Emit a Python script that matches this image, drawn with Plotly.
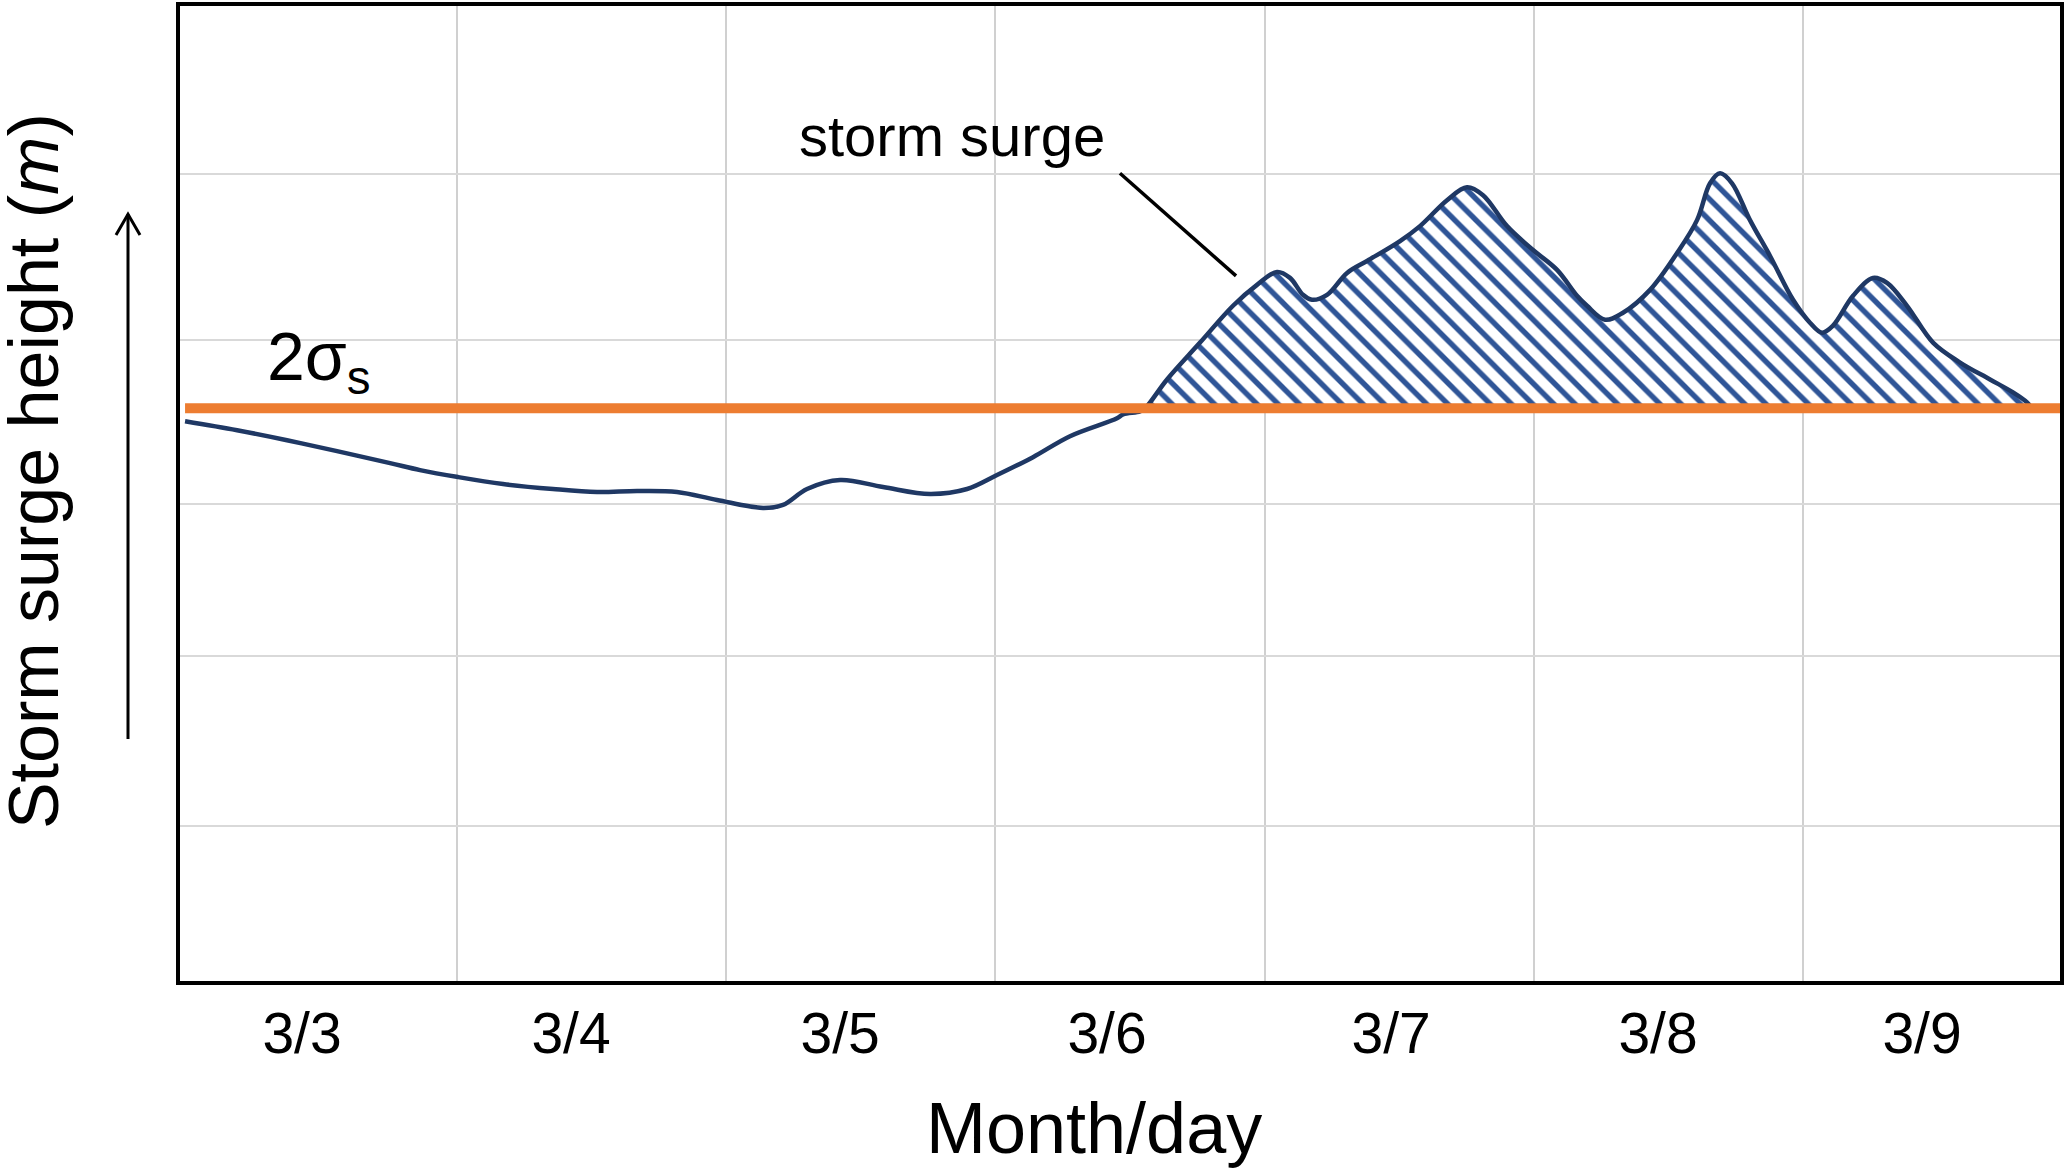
import plotly.graph_objects as go

# ---- data (hours from 3/3 00:00, surge height in arbitrary m units) ----
hours = [-0.25, 4.39, 8.84, 13.30, 18.03, 20.70, 24.09, 28.10, 32.56, 36.48, 40.05, 43.61,
         47.18, 51.28, 53.06, 55.20, 58.15, 61.98, 66.17, 69.47, 72.14, 75.35, 78.65,
         82.84, 83.38, 84.89, 85.34,
         87.30, 90.24, 93.18, 95.32, 97.11, 98.26, 99.42, 100.22, 101.56, 103.35, 105.13,
         108.07, 109.85, 112.26, 114.04, 115.47, 117.61, 119.93, 122.07, 123.85, 124.74,
         126.35, 127.95, 130.36, 132.77, 134.55, 135.71, 136.60, 137.67, 139.27, 141.06,
         143.11, 144.62, 145.69, 146.67, 148.46, 150.24, 151.49, 153.27, 155.59, 158.00,
         160.67, 162.72, 163.97, 164.42]
surge = [5.62, 5.53, 5.43, 5.32, 5.20, 5.13, 5.06, 4.99, 4.94, 4.91, 4.92, 4.91,
         4.83, 4.75, 4.78, 4.94, 5.03, 4.96, 4.89, 4.94, 5.08, 5.26, 5.47,
         5.65, 5.69, 5.72, 5.75,
         6.04, 6.41, 6.78, 6.99, 7.12, 7.06, 6.89, 6.84, 6.89, 7.11, 7.23,
         7.43, 7.58, 7.84, 7.97, 7.89, 7.58, 7.34, 7.14, 6.88, 6.78,
         6.64, 6.71, 6.94, 7.31, 7.64, 8.01, 8.11, 8.01, 7.64, 7.28,
         6.84, 6.61, 6.51, 6.58, 6.88, 7.06, 7.01, 6.78, 6.41, 6.21,
         6.04, 5.91, 5.81, 5.75]
level_2sigma = 5.75

tick_pos = [10.18, 34.16, 58.15, 81.95, 107.27, 131.07, 154.61]
tick_text = ["3/3", "3/4", "3/5", "3/6", "3/7", "3/8", "3/9"]
day_bounds = [24, 48, 72, 96, 120, 144]
grid_y = [1.56, 3.26, 4.79, 6.44, 8.10]

X_RANGE = [-0.70, 166.91]
Y_RANGE = [0, 9.79]

FONT = "Arial, Liberation Sans, sans-serif"
NAVY = "#1F3864"
HATCH = "#2F5597"
ORANGE = "#ED7D31"

# portion above the 2 sigma level
above = [(h, s) for h, s in zip(hours, surge) if h >= 85.34]
ax_h = [p[0] for p in above]
ax_s = [p[1] for p in above]

fig = go.Figure()
fig.add_trace(go.Scatter(x=[ax_h[0], ax_h[-1]], y=[level_2sigma, level_2sigma],
                         mode="lines", line=dict(width=0), hoverinfo="skip", showlegend=False))
fig.add_trace(go.Scatter(x=ax_h, y=ax_s, mode="lines",
                         line=dict(width=0, shape="spline", color=NAVY),
                         fill="tonexty", fillcolor="white",
                         fillpattern=dict(shape="\\", fgcolor=HATCH, bgcolor="white",
                                          fgopacity=1, size=15, solidity=0.36),
                         hoverinfo="skip", showlegend=False))
fig.add_trace(go.Scatter(x=hours, y=surge, mode="lines",
                         line=dict(color=NAVY, width=4.5, shape="spline"),
                         name="storm surge", showlegend=False))
fig.add_trace(go.Scatter(x=[hours[0], X_RANGE[1]], y=[level_2sigma, level_2sigma],
                         mode="lines", line=dict(color=ORANGE, width=10),
                         name="2σs", showlegend=False))

# pointer line from label to the surge area
fig.add_shape(type="line", x0=83.1, y0=8.11, x1=93.45, y1=7.08,
              line=dict(color="black", width=3.5))

# upward arrow beside the y title (paper coordinates)
AX = (128 - 180) / 1880
A_TOP = (981 - 211) / 979
A_BOT = (981 - 738) / 979
A_WING = 12 / 1880
A_HEAD = 21 / 979
fig.add_shape(type="line", xref="paper", yref="paper", x0=AX, y0=A_BOT, x1=AX, y1=A_TOP,
              line=dict(color="black", width=3))
fig.add_shape(type="path", xref="paper", yref="paper",
              path=f"M {AX - A_WING} {A_TOP - A_HEAD} L {AX} {A_TOP} L {AX + A_WING} {A_TOP - A_HEAD}",
              line=dict(color="black", width=3))

fig.add_annotation(x=68.13, y=8.49, text="storm surge", showarrow=False,
                   font=dict(size=58, color="black", family=FONT),
                   xanchor="center", yanchor="middle")
fig.add_annotation(x=6.9, y=6.23, text="2σ<sub>s</sub>", showarrow=False,
                   font=dict(size=68, color="black", family=FONT),
                   xanchor="left", yanchor="middle")
# axis titles
fig.add_annotation(xref="paper", yref="paper", x=(1094 - 180) / 1880, y=(981 - 1129) / 979,
                   text="Month/day", showarrow=False,
                   font=dict(size=72, color="black", family=FONT),
                   xanchor="center", yanchor="middle")
fig.add_annotation(xref="paper", yref="paper", x=(34 - 180) / 1880, y=(981 - 469) / 979,
                   text="Storm surge height (<i>m</i>)", showarrow=False, textangle=-90,
                   font=dict(size=70, color="black", family=FONT),
                   xanchor="center", yanchor="middle")

fig.update_layout(
    width=2067, height=1171,
    margin=dict(l=180, r=7, t=2, b=190),
    paper_bgcolor="white", plot_bgcolor="white",
    font=dict(family=FONT, color="black"),
    showlegend=False,
)
fig.update_xaxes(range=X_RANGE, tickvals=tick_pos, ticktext=tick_text, showgrid=False,
                 ticks="", ticklabelstandoff=0, tickfont=dict(size=57, color="black", family=FONT),
                 showline=True, linecolor="black", linewidth=4, mirror=True, zeroline=False,
                 minor=dict(tickvals=day_bounds, showgrid=True, gridcolor="#D0D0D0", gridwidth=2))
fig.update_yaxes(range=Y_RANGE, tickvals=grid_y, showticklabels=False, showgrid=True,
                 gridcolor="#D9D9D9", gridwidth=2, ticks="",
                 showline=True, linecolor="black", linewidth=4, mirror=True, zeroline=False)

fig.write_html("out.html", config={"displayModeBar": False},
               post_script="document.body.style.margin='0';document.body.style.overflow='hidden';")
